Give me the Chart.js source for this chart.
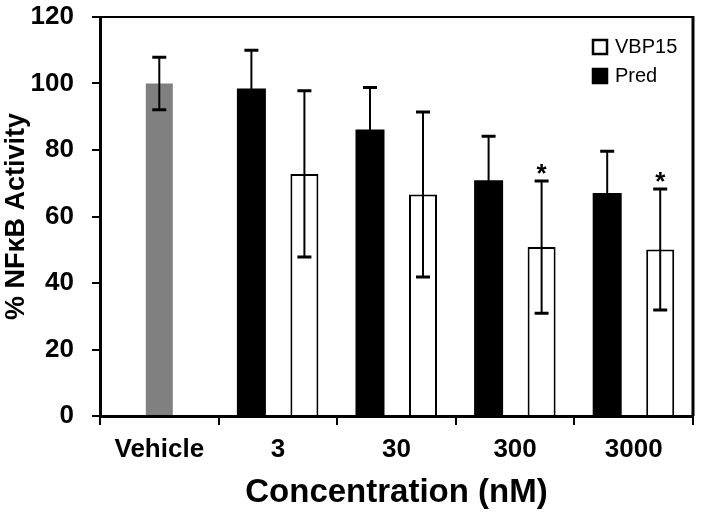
<!DOCTYPE html>
<html>
<head>
<meta charset="utf-8">
<script src="https://cdn.jsdelivr.net/npm/chart.js@4/dist/chart.umd.min.js"></script>
<style>
  html, body { margin: 0; padding: 0; background: #fff; }
  #wrap { width: 702px; height: 518px; }
</style>
</head>
<body>
<div id="wrap"><canvas id="chart"></canvas></div>
<script>
const categories = ["Vehicle", "3", "30", "300", "3000"];
const vehicleValues = [100, null, null, null, null];
const vehicleErr = [7.9, null, null, null, null];
const predValues = [null, 98.5, 86.2, 70.9, 67.1];
const predErr = [null, 11.5, 12.6, 13.2, 12.5];
const vbpValues = [null, 72.8, 66.6, 50.8, 50.1];
const vbpErr = [null, 25, 24.8, 19.9, 18.2];
const vbpStars = [false, false, false, true, true];
const FONT = "'Liberation Sans', Arial, sans-serif";

// error bars + significance marks
const errorBars = {
  id: "errorBars",
  afterDatasetsDraw(chart) {
    const { ctx } = chart;
    const y = chart.scales.y;
    const errs = [vehicleErr, predErr, vbpErr];
    ctx.save();
    ctx.strokeStyle = "#000";
    chart.data.datasets.forEach((ds, di) => {
      const meta = chart.getDatasetMeta(di);
      meta.data.forEach((bar, i) => {
        const v = ds.data[i];
        const e = errs[di][i];
        if (v == null || e == null) return;
        const top = y.getPixelForValue(v + e);
        const bot = y.getPixelForValue(v - e);
        ctx.lineWidth = 2;
        ctx.beginPath();
        ctx.moveTo(bar.x, top);
        ctx.lineTo(bar.x, bot);
        ctx.stroke();
        ctx.lineWidth = 3;
        ctx.beginPath();
        ctx.moveTo(bar.x - 7, top);
        ctx.lineTo(bar.x + 7, top);
        ctx.moveTo(bar.x - 7, bot);
        ctx.lineTo(bar.x + 7, bot);
        ctx.stroke();
        if (di === 2 && vbpStars[i]) {
          ctx.fillStyle = "#000";
          ctx.font = "bold 26px " + FONT;
          ctx.textAlign = "center";
          ctx.textBaseline = "middle";
          ctx.fillText("*", bar.x, top - 6);
        }
      });
    });
    ctx.restore();
  },
};

// frame on top/right and the legend inside the plot
const frameAndLegend = {
  id: "frameAndLegend",
  afterDraw(chart) {
    const { ctx, chartArea: a } = chart;
    ctx.save();
    ctx.strokeStyle = "#000";
    ctx.lineWidth = 2;
    ctx.beginPath();
    ctx.moveTo(a.left, a.top);
    ctx.lineTo(a.right, a.top);
    ctx.stroke();
    ctx.lineWidth = 3;
    ctx.beginPath();
    ctx.moveTo(a.right, a.top - 1);
    ctx.lineTo(a.right, a.bottom);
    ctx.stroke();

    const items = [
      { label: "VBP15", fill: "#fff" },
      { label: "Pred", fill: "#000" },
    ];
    ctx.font = "20px " + FONT;
    ctx.textBaseline = "middle";
    ctx.textAlign = "left";
    items.forEach((it, k) => {
      const cy = 47 + k * 29;
      ctx.fillStyle = it.fill;
      ctx.fillRect(593, cy - 7, 14, 14);
      ctx.lineWidth = 2.5;
      ctx.strokeRect(593, cy - 7, 14, 14);
      ctx.fillStyle = "#000";
      ctx.fillText(it.label, 615, cy);
    });
    ctx.restore();
  },
};

new Chart(document.getElementById("chart"), {
  type: "bar",
  data: {
    labels: categories,
    datasets: [
      {
        label: "Vehicle",
        data: vehicleValues,
        backgroundColor: "#808080",
        borderWidth: 0,
        skipNull: true,
        maxBarThickness: 27,
      },
      {
        label: "Pred",
        data: predValues,
        backgroundColor: "#000",
        borderColor: "#000",
        borderWidth: 0,
        skipNull: true,
        maxBarThickness: 29,
      },
      {
        label: "VBP15",
        data: vbpValues,
        backgroundColor: "#fff",
        borderColor: "#000",
        borderWidth: 2,
        skipNull: true,
        maxBarThickness: 28,
      },
    ],
  },
  options: {
    responsive: true,
    maintainAspectRatio: false,
    animation: false,
    categoryPercentage: 0.894,
    barPercentage: 0.55,
    layout: { padding: { top: 17, right: 9, left: 0, bottom: 0 } },
    plugins: {
      legend: { display: false },
      tooltip: { enabled: false },
    },
    scales: {
      x: {
        grid: { drawOnChartArea: false, drawTicks: true, tickLength: 9, color: "#000", lineWidth: 2 },
        border: { color: "#000", width: 3 },
        ticks: { color: "#000", font: { family: FONT, size: 26, weight: "bold" }, padding: 9 },
        title: {
          display: true,
          text: "Concentration (nM)",
          color: "#000",
          font: { family: FONT, size: 33, weight: "bold", lineHeight: 1 },
          padding: { top: 0, bottom: 9 },
        },
        afterFit(scale) {
          scale.height = 102;
          scale.paddingLeft = 0;
          scale.paddingRight = 0;
        },
      },
      y: {
        min: 0,
        max: 120,
        ticks: { stepSize: 20, color: "#000", font: { family: FONT, size: 26, weight: "bold" }, padding: 18 },
        grid: { drawOnChartArea: false, drawTicks: true, tickLength: 8, color: "#000", lineWidth: 2 },
        border: { color: "#000", width: 3 },
        title: {
          display: true,
          text: "% NFκB Activity",
          color: "#000",
          font: { family: FONT, size: 27, weight: "bold", lineHeight: 1 },
          padding: { top: 3, bottom: 0 },
        },
        afterFit(scale) {
          scale.width = 100;
          scale.paddingTop = 0;
          scale.paddingBottom = 0;
        },
      },
    },
  },
  plugins: [errorBars, frameAndLegend],
});
</script>
</body>
</html>
